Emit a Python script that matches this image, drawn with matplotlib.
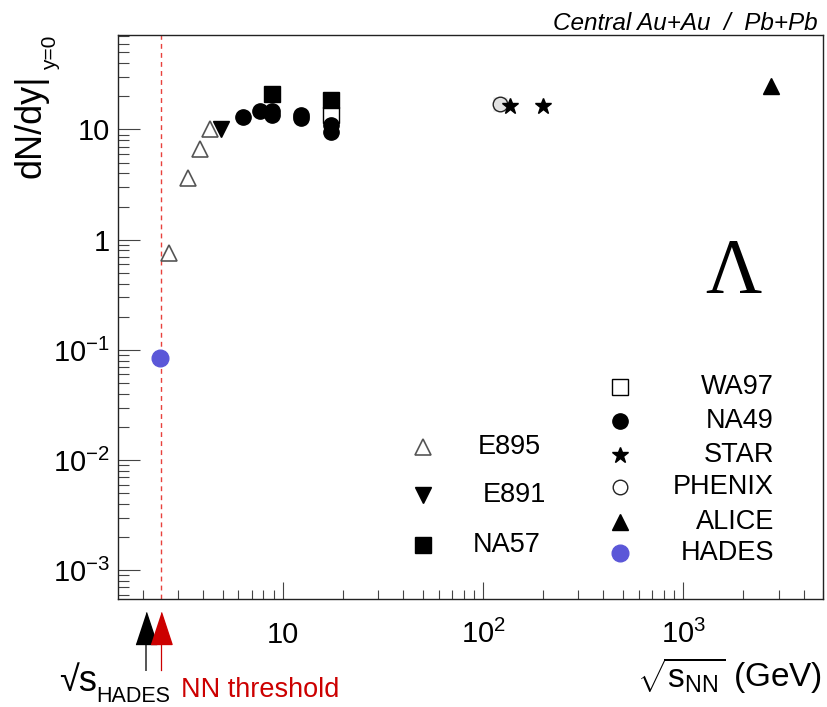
import matplotlib
matplotlib.use("Agg")
import matplotlib.pyplot as plt
from matplotlib.ticker import FixedLocator, FixedFormatter, LogLocator, NullFormatter
from matplotlib.transforms import blended_transform_factory

plt.rcParams["font.family"] = ["Liberation Sans", "DejaVu Sans"]
plt.rcParams["mathtext.fontset"] = "custom"
plt.rcParams["mathtext.rm"] = "Liberation Sans"
plt.rcParams["mathtext.it"] = "Liberation Sans:italic"
plt.rcParams["mathtext.bf"] = "Liberation Sans:bold"
plt.rcParams["mathtext.sf"] = "Liberation Sans"

# ---- Lambda midrapidity yields, central Au+Au / Pb+Pb ----
e895_sqrts = [2.69, 3.35, 3.85, 4.3]
e895_dndy = [0.76, 3.6, 6.7, 10.0]

e891_sqrts = [4.9]
e891_dndy = [10.0]

na57_sqrts = [8.8, 17.3]
na57_dndy = [20.8, 18.4]

wa97_sqrts = [17.3]
wa97_dndy = [13.4]

na49_sqrts = [6.3, 7.7, 8.8, 8.8, 12.3, 12.3, 17.3, 17.3]
na49_dndy = [13.1, 14.6, 14.6, 13.6, 13.5, 12.6, 11.1, 9.4]

star_sqrts = [136.0, 200.0]
star_dndy = [16.5, 16.2]

phenix_sqrts = [122.0]
phenix_dndy = [16.9]

alice_sqrts = [2760.0]
alice_dndy = [24.6]

hades_sqrts = [2.42]
hades_dndy = [0.085]

nn_threshold = 2.46
hades_arrow = 2.07

x_ticks = [10, 100, 1000]
x_ticklabels = ["10", r"$10^{2}$", r"$10^{3}$"]
y_ticks = [1e-3, 1e-2, 1e-1, 1, 10]
y_ticklabels = [r"$10^{-3}$", r"$10^{-2}$", r"$10^{-1}$", "1", "10"]

W, H = 827, 707
fig = plt.figure(figsize=(W / 100, H / 100), dpi=100)
L, R, T, B = 118, 823, 35, 599
ax = fig.add_axes([L / W, 1 - B / H, (R - L) / W, (B - T) / H])


def fx(px):
    return px / W


def fy(py):
    return 1 - py / H


ax.set_xscale("log")
ax.set_yscale("log")
ax.set_xlim(1.5, 5000)
ax.set_ylim(5.5e-4, 72)

# NN threshold line
ax.axvline(nn_threshold, color="#e8413c", ls=(0, (3.5, 3)), lw=1.0, zorder=1)

msz = 11
ax.plot(phenix_sqrts, phenix_dndy, ls="none", marker="s", ms=9.5, mfc="#e2e2e2", mec="none", zorder=2)
ax.plot(e895_sqrts, e895_dndy, ls="none", marker="^", ms=msz + 0.5, mfc="white", mec="#555555", mew=1.2, zorder=3)
ax.plot(e891_sqrts, e891_dndy, ls="none", marker="v", ms=msz, color="black", zorder=3)
ax.plot(wa97_sqrts, wa97_dndy, ls="none", marker="s", ms=msz, mfc="white", mec="black", mew=1.0, zorder=3)
ax.plot(na57_sqrts, na57_dndy, ls="none", marker="s", ms=msz, color="black", zorder=3)
ax.plot(na49_sqrts, na49_dndy, ls="none", marker="o", ms=msz, color="black", zorder=4)
ax.plot(phenix_sqrts, phenix_dndy, ls="none", marker="o", ms=msz - 0.5, mfc="none", mec="#222222", mew=1.0, zorder=4)
ax.plot(star_sqrts, star_dndy, ls="none", marker="*", ms=msz + 1, color="black", zorder=5)
ax.plot(alice_sqrts, alice_dndy, ls="none", marker="^", ms=msz + 1, color="black", zorder=3)
ax.plot(hades_sqrts, hades_dndy, ls="none", marker="o", ms=12, color="#5b57d8", zorder=3)

# axes styling
for s in ["top", "right", "bottom", "left"]:
    ax.spines[s].set_linewidth(1.0)
    ax.spines[s].set_color("#222222")
ax.xaxis.set_major_locator(FixedLocator(x_ticks))
ax.xaxis.set_major_formatter(FixedFormatter(x_ticklabels))
ax.xaxis.set_minor_locator(LogLocator(base=10, subs=range(2, 10), numticks=20))
ax.xaxis.set_minor_formatter(NullFormatter())
ax.yaxis.set_major_locator(FixedLocator(y_ticks))
ax.yaxis.set_major_formatter(FixedFormatter(y_ticklabels))
ax.yaxis.set_minor_locator(LogLocator(base=10, subs=range(2, 10), numticks=20))
ax.yaxis.set_minor_formatter(NullFormatter())
ax.tick_params(axis="x", which="major", direction="in", length=12, width=0.8, color="#444444",
               labelsize=21, pad=31.5, top=False)
ax.tick_params(axis="x", which="minor", direction="in", length=6.5, width=0.8, color="#444444", top=False)
ax.tick_params(axis="y", which="major", direction="in", length=16, width=0.8, color="#444444",
               labelsize=21, pad=6, right=False)
ax.tick_params(axis="y", which="minor", direction="in", length=8, width=0.8, color="#444444", right=False)
for lab in ax.get_xticklabels():
    lab.set_verticalalignment("baseline")

# axis titles
fig.text(fx(822), fy(687), r"$\sqrt{\mathrm{s}_{\mathrm{NN}}}$ (GeV)", fontsize=24, ha="right", va="baseline")
fig.text(fx(31), fy(178), "dN/dy|", fontsize=26, rotation=90, ha="center", va="bottom")
fig.text(fx(51), fy(70), "y=0", fontsize=15, rotation=90, ha="center", va="bottom")

# header and particle label
fig.text(fx(818), fy(30), "Central Au+Au  /  Pb+Pb", fontsize=17.5, style="italic", ha="right", va="baseline")
fig.text(fx(733), fy(292), "Λ", fontsize=56, family="Liberation Serif", ha="center", va="baseline")

# arrows below the energy axis
bt = blended_transform_factory(ax.transData, ax.transAxes)
head = [(-0.66, -1), (0.66, -1), (0, 1)]


def ay(py):
    return (B - py) / (B - T)


ax.plot([hades_arrow, hades_arrow], [ay(644), ay(670)], color="#555555", lw=1.4, transform=bt, clip_on=False)
ax.plot([nn_threshold, nn_threshold], [ay(644), ay(670)], color="#cc0000", lw=0.9, transform=bt, clip_on=False)
ax.plot([hades_arrow], [ay(628)], marker=head, ms=23, color="black", transform=bt, clip_on=False)
ax.plot([nn_threshold], [ay(628)], marker=head, ms=23, color="#cc0000", transform=bt, clip_on=False)

fig.text(fx(59), fy(691), "√s", fontsize=26, ha="left", va="baseline")
fig.text(fx(96), fy(702), "HADES", fontsize=15.5, ha="left", va="baseline")
fig.text(fx(181), fy(697), "NN threshold", fontsize=19.5, color="#cc0000", ha="left", va="baseline")

# legend, left block
leg_left = [
    ("E895", dict(marker="^", mfc="white", mec="#555555", mew=1.2, ms=msz + 0.5), 447, 478),
    ("E891", dict(marker="v", color="black", ms=msz), 495, 483),
    ("NA57", dict(marker="s", color="black", ms=msz), 545, 473),
]
for name, style, py, tx in leg_left:
    ax.plot([(423 - L) / (R - L)], [ay(py)], ls="none", transform=ax.transAxes, clip_on=False, **style)
    fig.text(fx(tx), fy(py), name, fontsize=19.5, ha="left", va="center")

# legend, right block
leg_right = [
    ("WA97", dict(marker="s", mfc="white", mec="black", mew=1.0, ms=msz), 387),
    ("NA49", dict(marker="o", color="black", ms=msz), 421),
    ("STAR", dict(marker="*", color="black", ms=msz + 1), 455),
    ("PHENIX", dict(marker="o", mfc="white", mec="#222222", mew=1.0, ms=msz - 0.5), 487),
    ("ALICE", dict(marker="^", color="black", ms=msz + 1), 522),
    ("HADES", dict(marker="o", color="#5b57d8", ms=12), 553),
]
for name, style, py in leg_right:
    ax.plot([(620 - L) / (R - L)], [ay(py)], ls="none", transform=ax.transAxes, clip_on=False, **style)
    fig.text(fx(774), fy(py), name, fontsize=19.5, ha="right", va="center")

fig.savefig("out.png", dpi=100)
